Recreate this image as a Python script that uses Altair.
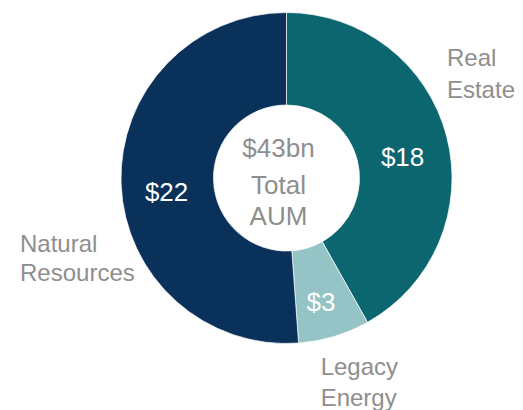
import altair as alt
import pandas as pd

# ---- data ----
categories = ["Real Estate", "Legacy Energy", "Natural Resources"]
values = [18, 3, 22]
colors = ["#0b6670", "#94c4c6", "#0a3159"]
label_lines = [["Real", "Estate"], ["Legacy", "Energy"], ["Natural", "Resources"]]
center_lines = ["$43bn", "Total", "AUM"]

total = sum(values)
FONT = "Liberation Sans, Arial, sans-serif"
GREY = "#8e8e8e"

df = pd.DataFrame({
    "category": categories,
    "value": values,
    "idx": list(range(len(categories))),
    "label": ["\n".join(l) for l in label_lines],
})

base = alt.Chart(df).transform_window(
    end="sum(value)", sort=[alt.SortField("idx")], frame=[None, 0]
).transform_calculate(
    start="datum.end - datum.value",
    mid="datum.end - datum.value / 2",
    vlabel="'$' + datum.value",
)

theta_scale = alt.Scale(domain=[0, total])

arcs = base.mark_arc(outerRadius=165.5, innerRadius=73, stroke="white", strokeWidth=0.7).encode(
    theta=alt.Theta("start:Q", scale=theta_scale),
    theta2="end:Q",
    color=alt.Color("category:N", scale=alt.Scale(domain=categories, range=colors), legend=None),
)

value_text = base.mark_text(
    radius=120, dy=10.5, font=FONT, fontSize=26, color="white", align="center", baseline="middle"
).encode(
    theta=alt.Theta("mid:Q", scale=theta_scale),
    text="vlabel:N",
)

# (dx, dy, lineHeight) label nudges
offsets = {
    "Real Estate": (-13.7, -66.5, 32),
    "Legacy Energy": (-17.7, 24.2, 31.5),
    "Natural Resources": (-86.6, 67.0, 29.5),
}
outer = []
for cat in categories:
    dx, dy, lh = offsets[cat]
    outer.append(
        base.transform_filter(alt.datum.category == cat).mark_text(
            radius=180, dx=dx, dy=dy, align="left", baseline="alphabetic",
            lineBreak="\n", lineHeight=lh, font=FONT, fontSize=24, color=GREY,
        ).encode(
            theta=alt.Theta("mid:Q", scale=theta_scale),
            text="label:N",
        )
    )

center_dy = [-21.2, 15.8, 47.3]
center = []
for line, dy in zip(center_lines, center_dy):
    center.append(
        alt.Chart(pd.DataFrame({"t": [line]})).mark_text(
            dx=-8, dy=dy, align="center", baseline="alphabetic",
            font=FONT, fontSize=26, color=GREY,
        ).encode(text="t:N")
    )

chart = alt.layer(arcs, value_text, *outer, *center).properties(
    width=457, height=340,
    padding={"left": 50, "top": 0, "right": 0, "bottom": 62},
    autosize=alt.AutoSizeParams(type="none"),
    background="white",
).configure_view(stroke=None)

chart.save("out.html", embed_options={"renderer": "svg", "actions": False})
